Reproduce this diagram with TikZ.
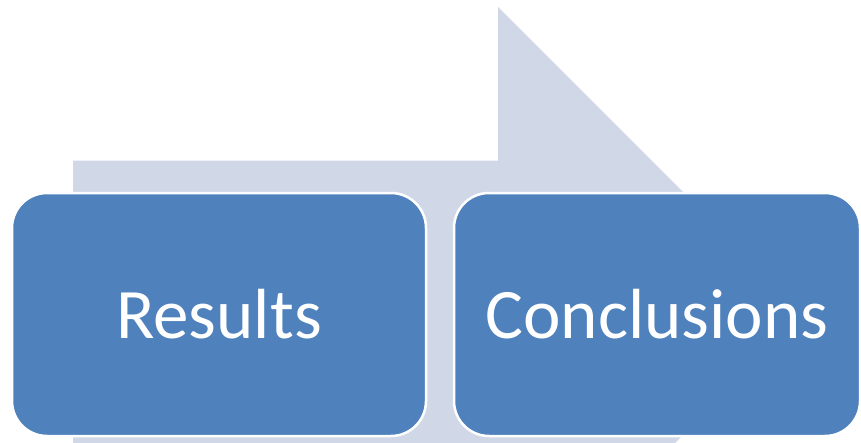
\documentclass[tikz,border=0pt]{standalone}
\usepackage{fontspec}
\setmainfont{Carlito}
\definecolor{boxblue}{RGB}{79,129,189}
\definecolor{arrowgray}{RGB}{208,216,232}
\tikzset{
  stagebox/.style={draw=white, line width=2.5pt, fill=boxblue, rounded corners=35pt,
    text=white, font=\fontsize{71}{78}\selectfont, inner sep=0pt, anchor=center},
}
\begin{document}
\begin{tikzpicture}[x=1pt,y=-1pt]
\useasboundingbox (0,0) rectangle (861,442);
\begin{scope}
\clip (0,0) rectangle (861,442);
\fill[arrowgray] (73,700) -- (73,160.5) -- (498,160.5) -- (498,7) -- (804.5,313.5) -- (498,620) -- (498,700) -- cycle;
\end{scope}
\node[stagebox, minimum width=414pt, minimum height=243pt] (res) at (219,314.5) {\raisebox{2pt}{Results}};
\node[stagebox, minimum width=406pt, minimum height=243pt] (con) at (657,314.5) {\raisebox{2pt}{Conclusions}};
\end{tikzpicture}
\end{document}
